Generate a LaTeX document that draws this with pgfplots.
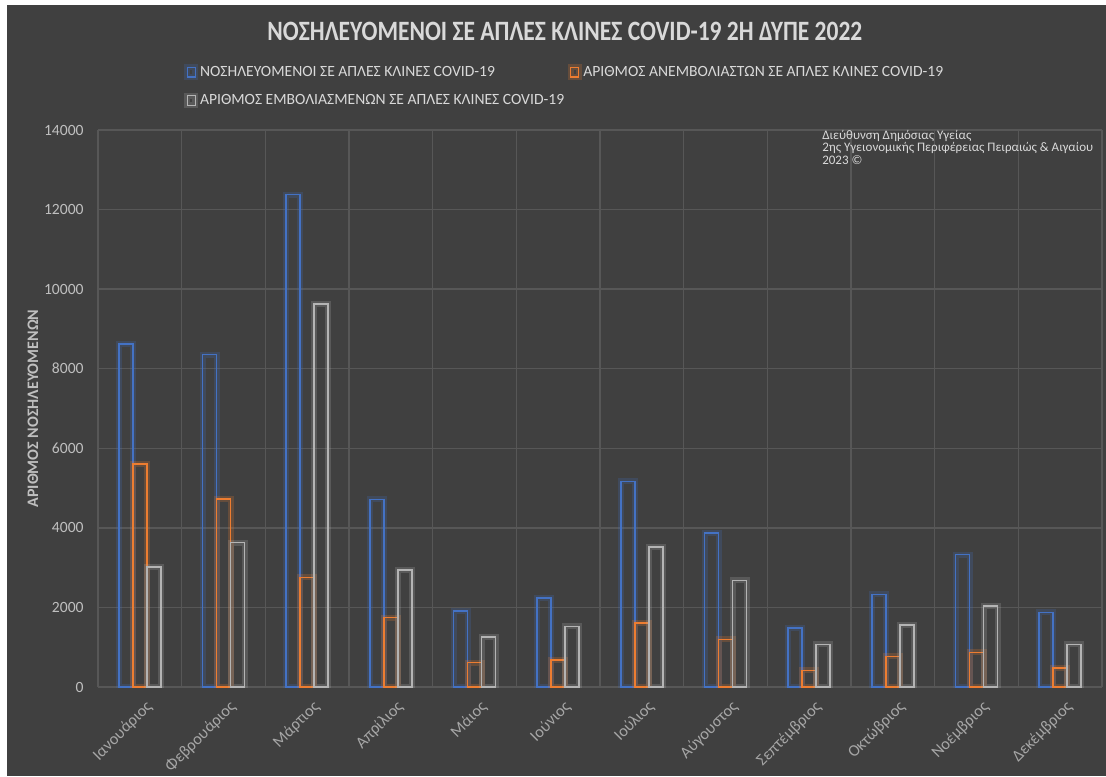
\documentclass[border=0pt]{standalone}
\usepackage{pgfplots}
\pgfplotsset{compat=1.18}
\usepackage{fontspec}
\setmainfont{Carlito}
\definecolor{bg}{HTML}{404040}
\definecolor{gridc}{HTML}{575757}
\definecolor{cblue}{HTML}{4472C4}
\definecolor{corange}{HTML}{ED7D31}
\definecolor{cgray}{HTML}{B4B4B4}
\definecolor{txt}{HTML}{D9D9D9}
\definecolor{tickc}{HTML}{BFBFBF}
\definecolor{xtc}{HTML}{A6A6A6}
\pgfplotsset{
  lg/.style={legend image code/.code={\draw[##1,line width=0.6pt] (0pt,-2.2pt) rectangle (4pt,2.6pt);}},
}
\begin{document}
\begin{tikzpicture}
\fill[white] (-49pt,-44.5pt) rectangle (504pt,343.5pt);
\fill[bg] (-45.5pt,-44.5pt) rectangle (504pt,341pt);
\begin{axis}[
  at={(0pt,0pt)}, anchor=south west,
  scale only axis, width=502pt, height=278.5pt,
  xmin=-0.5, xmax=11.5, ymin=0, ymax=14000,
  ybar=0pt, bar width=7pt,
  xtick={0,...,11},
  xticklabels={Ιανουάριος,Φεβρουάριος,Μάρτιος,Απρίλιος,Μάιος,Ιούνιος,Ιούλιος,Αύγουστος,Σεπτέμβριος,Οκτώβριος,Νοέμβριος,Δεκέμβριος},
  minor xtick={-0.5,0.5,...,11.5}, xminorgrids=true,
  ytick={0,2000,...,14000}, ymajorgrids=true,
  major grid style={gridc, line width=0.7pt},
  minor grid style={gridc, line width=0.7pt},
  axis line style={draw=none},
  tick style={draw=none}, major tick length=0pt, minor tick length=0pt,
  scaled y ticks=false,
  /pgf/number format/assume math mode=true,
  /pgf/number format/1000 sep={},
  yticklabel style={font=\fontsize{7.8}{9}\selectfont, text=tickc, anchor=east, inner sep=0pt, xshift=-7pt},
  xticklabel style={font=\fontsize{8.2}{9}\selectfont, text=xtc, inner sep=0pt, xshift=5pt, yshift=-8.5pt, rotate=45, anchor=east},
  ylabel={ΑΡΙΘΜΟΣ ΝΟΣΗΛΕΥΟΜΕΝΩΝ},
  ylabel style={at={(axis description cs:-0.0647,0.5)}, anchor=center, font=\bfseries\fontsize{8}{9}\selectfont, text=tickc},
  title={\scalebox{0.84}[1]{ΝΟΣΗΛΕΥΟΜΕΝΟΙ ΣΕ ΑΠΛΕΣ ΚΛΙΝΕΣ COVID-19 2Η ΔΥΠΕ 2022}},
  title style={at={(rel axis cs:0.465,1.155)}, anchor=center, font=\bfseries\fontsize{14}{16}\selectfont, text=txt},
  legend columns=2,
  legend cell align=left,
  legend style={at={(rel axis cs:0,1)}, anchor=north west, xshift=43pt, yshift=33pt,
    draw=none, fill=none, text=txt, font=\fontsize{7.8}{9}\selectfont, inner sep=0pt,
    row sep=6pt,
    nodes={inner sep=0.8pt},
    /tikz/every odd column/.append style={column sep=0pt},
    /tikz/every even column/.append style={column sep=1pt}},
]
\addplot[draw=cblue, fill=none, line width=0.75pt, preaction={draw=cblue, draw opacity=0.22, line width=3pt}, lg]
  coordinates {(0,8620) (1,8355) (2,12376) (3,4718) (4,1907) (5,2234) (6,5169) (7,3874) (8,1481) (9,2326) (10,3330) (11,1875)};
\addlegendentry{ΝΟΣΗΛΕΥΟΜΕΝΟΙ ΣΕ ΑΠΛΕΣ ΚΛΙΝΕΣ COVID-19}
\addplot[draw=corange, fill=none, line width=0.75pt, preaction={draw=corange, draw opacity=0.22, line width=3pt}, lg]
  coordinates {(0,5605) (1,4730) (2,2755) (3,1741) (4,612) (5,678) (6,1615) (7,1197) (8,418) (9,770) (10,871) (11,477)};
\addlegendentry{ΑΡΙΘΜΟΣ ΑΝΕΜΒΟΛΙΑΣΤΩΝ ΣΕ ΑΠΛΕΣ ΚΛΙΝΕΣ COVID-19}
\addplot[draw=cgray, fill=none, line width=0.75pt, preaction={draw=cgray, draw opacity=0.22, line width=3pt}, lg]
  coordinates {(0,3016) (1,3630) (2,9626) (3,2946) (4,1255) (5,1523) (6,3523) (7,2678) (8,1071) (9,1556) (10,2033) (11,1071)};
\addlegendentry{ΑΡΙΘΜΟΣ ΕΜΒΟΛΙΑΣΜΕΝΩΝ ΣΕ ΑΠΛΕΣ ΚΛΙΝΕΣ COVID-19}
\node[anchor=north west, align=left, inner sep=0pt, text=txt, font=\fontsize{6.5}{6.2}\selectfont]
  at (axis description cs:0.721,1.0) {Διεύθυνση Δημόσιας Υγείας\\2ης Υγειονομικής Περιφέρειας Πειραιώς \& Αιγαίου\\ 2023 ©};
\end{axis}
\pgfresetboundingbox
\useasboundingbox (-49pt,-44.5pt) rectangle (504pt,343.5pt);
\end{tikzpicture}
\end{document}
